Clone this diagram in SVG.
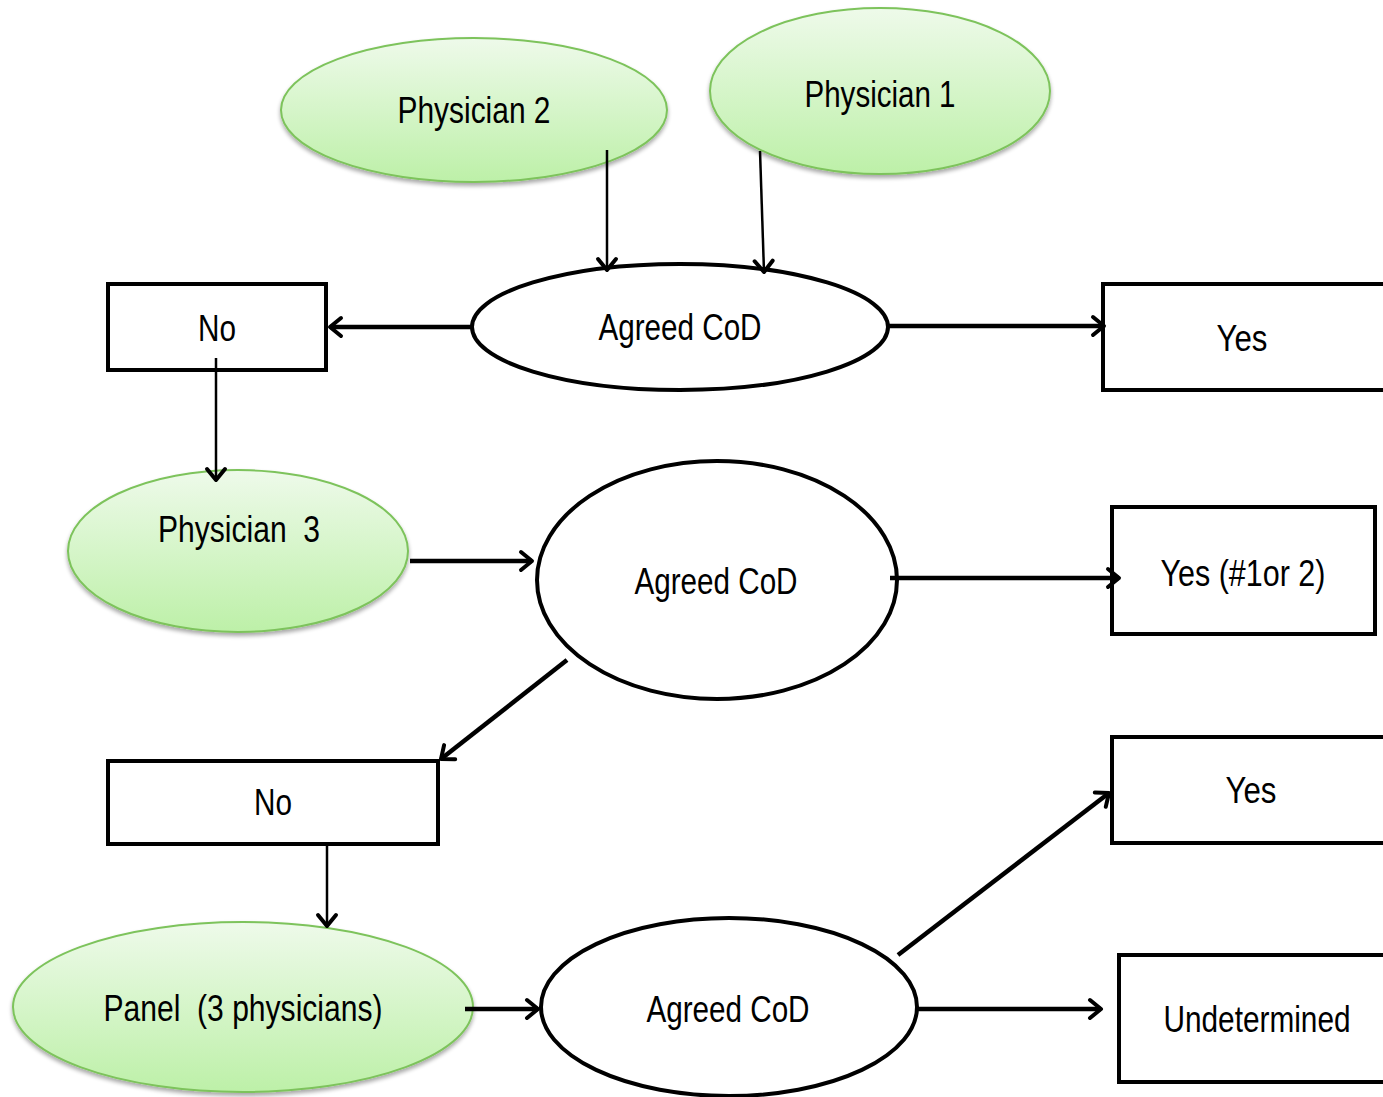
<svg xmlns="http://www.w3.org/2000/svg" width="1383" height="1097" viewBox="0 0 1383 1097">
<defs>
<linearGradient id="g" x1="0" y1="0" x2="0" y2="1">
<stop offset="0" stop-color="#eefaea"/>
<stop offset="1" stop-color="#bdf0a8"/>
</linearGradient>
<filter id="sh" x="-10%" y="-10%" width="120%" height="130%">
<feGaussianBlur in="SourceAlpha" stdDeviation="2"/>
<feOffset dx="0" dy="3" result="b"/>
<feComponentTransfer><feFuncA type="linear" slope="0.35"/></feComponentTransfer>
<feMerge><feMergeNode/><feMergeNode in="SourceGraphic"/></feMerge>
</filter>
<marker id="a" markerUnits="userSpaceOnUse" markerWidth="24" markerHeight="24" viewBox="-14 -12 16 24" refX="0" refY="0" orient="auto">
<path d="M-11,-9 L0,0 L-11,9" fill="none" stroke="#000" stroke-width="4" stroke-linecap="round" stroke-linejoin="round"/>
</marker>
</defs>
<style>
.grn{fill:url(#g);stroke:#7dc35b;stroke-width:2;filter:url(#sh)}
.wht{fill:#fff;stroke:#000;stroke-width:4}
.box{fill:#fff;stroke:#000;stroke-width:4}
.t{font-family:"Liberation Sans",Arial,sans-serif;font-size:36px;fill:#000;text-anchor:middle}
.c{stroke:#000;fill:none;marker-end:url(#a)}
.thin{stroke-width:2.5}
.thick{stroke-width:4.5}
</style>
<rect width="1383" height="1097" fill="#fff"/>
<g id="physician2"><ellipse class="grn" cx="474" cy="110" rx="193" ry="72"/><text class="t" x="474" y="123" textLength="153" lengthAdjust="spacingAndGlyphs">Physician 2</text></g>
<g id="physician1"><ellipse class="grn" cx="880" cy="91" rx="170" ry="83"/><text class="t" x="880" y="107" textLength="151" lengthAdjust="spacingAndGlyphs">Physician 1</text></g>
<g id="agreed1"><ellipse class="wht" cx="680" cy="327" rx="208" ry="63"/><text class="t" x="680" y="340" textLength="163" lengthAdjust="spacingAndGlyphs">Agreed CoD</text></g>
<g id="no1"><rect class="box" x="108" y="284" width="218" height="86"/><text class="t" x="217" y="341" textLength="38" lengthAdjust="spacingAndGlyphs">No</text></g>
<g id="yes1"><rect class="box" x="1103" y="284" width="282" height="106"/><text class="t" x="1242" y="351" textLength="51" lengthAdjust="spacingAndGlyphs">Yes</text></g>
<g id="physician3"><ellipse class="grn" cx="238" cy="551" rx="170" ry="81"/><text class="t" x="239" y="542" textLength="162" lengthAdjust="spacingAndGlyphs" xml:space="preserve">Physician  3</text></g>
<g id="agreed2"><ellipse class="wht" cx="717" cy="580" rx="180" ry="119"/><text class="t" x="716" y="594" textLength="163" lengthAdjust="spacingAndGlyphs">Agreed CoD</text></g>
<g id="yes2"><rect class="box" x="1112" y="507" width="263" height="127"/><text class="t" x="1243" y="586" textLength="165" lengthAdjust="spacingAndGlyphs">Yes (#1or 2)</text></g>
<g id="no2"><rect class="box" x="108" y="761" width="330" height="83"/><text class="t" x="273" y="815" textLength="38" lengthAdjust="spacingAndGlyphs">No</text></g>
<g id="yes3"><rect class="box" x="1112" y="737" width="273" height="106"/><text class="t" x="1251" y="803" textLength="51" lengthAdjust="spacingAndGlyphs">Yes</text></g>
<g id="panel"><ellipse class="grn" cx="243" cy="1007" rx="230" ry="85"/><text class="t" x="243" y="1021" textLength="279" lengthAdjust="spacingAndGlyphs" xml:space="preserve">Panel  (3 physicians)</text></g>
<g id="agreed3"><ellipse class="wht" cx="729" cy="1007" rx="188" ry="89"/><text class="t" x="728" y="1022" textLength="163" lengthAdjust="spacingAndGlyphs">Agreed CoD</text></g>
<g id="undetermined"><rect class="box" x="1119" y="955" width="266" height="127"/><text class="t" x="1257" y="1032" textLength="187" lengthAdjust="spacingAndGlyphs">Undetermined</text></g>
<g id="connectors">
<line class="c thin" x1="607" y1="150" x2="607" y2="270"/>
<line class="c thin" x1="760" y1="151" x2="764" y2="272"/>
<line class="c thick" x1="472" y1="327" x2="330" y2="327"/>
<line class="c thick" x1="888" y1="326" x2="1104" y2="326"/>
<line class="c thin" x1="216" y1="358" x2="216" y2="480"/>
<line class="c thick" x1="410" y1="561" x2="532" y2="561"/>
<line class="c thick" x1="890" y1="578" x2="1119" y2="578"/>
<line class="c thick" x1="567" y1="660" x2="441" y2="759"/>
<line class="c thin" x1="327" y1="846" x2="327" y2="926"/>
<line class="c thick" x1="465" y1="1009" x2="538" y2="1009"/>
<line class="c thick" x1="898" y1="955" x2="1109" y2="793"/>
<line class="c thick" x1="918" y1="1009" x2="1101" y2="1009"/>
</g>
</svg>
